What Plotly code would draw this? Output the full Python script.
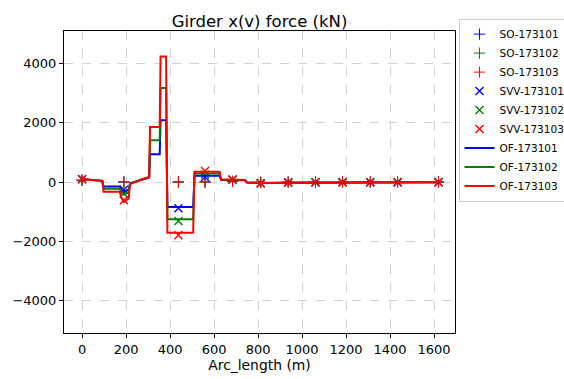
import plotly.graph_objects as go

# ---- data ----
names_so = ["SO-173101", "SO-173102", "SO-173103"]
names_svv = ["SVV-173101", "SVV-173102", "SVV-173103"]
names_of = ["OF-173101", "OF-173102", "OF-173103"]
colors = ["#0000ff", "#008000", "#ff0000"]

pts_x = [0, 190, 438, 559, 684, 812, 937, 1061, 1184, 1310, 1434, 1620]
so_1 = [60, 0, 0, 0, 20, -10, -5, -5, 0, 0, 0, 0]
so_2 = [60, 0, 0, 0, 20, -10, -5, -5, 0, 0, 0, 0]
so_3 = [60, 0, 0, 0, 20, -10, -5, -5, 0, 0, 0, 0]

svv_1 = [90, -260, -888, 170, 80, -40, -20, -10, -5, -5, -5, -5]
svv_2 = [90, -392, -1317, 250, 80, -40, -20, -10, -5, -5, -5, -5]
svv_3 = [90, -618, -1800, 370, 80, -40, -20, -10, -5, -5, -5, -5]

of_x = [0, 30, 60, 92, 98, 172, 178, 190, 205, 212, 218, 240, 270, 300, 305,
        309, 353, 357, 382, 388, 505, 511, 625, 632, 740, 750, 820, 1000,
        1200, 1400, 1620]
of_1 = [90, 85, 60, 40, -150, -150, -260, -330, -280, -250, -40, 0, 80, 130, 150,
        935, 935, 2085, 2085, -845, -845, 215, 215, 70, 60, -15, -30, -20,
        -10, -10, -10]
of_2 = [90, 85, 60, 40, -230, -230, -350, -420, -360, -330, -50, 0, 80, 140, 170,
        1410, 1410, 3175, 3175, -1260, -1260, 290, 290, 80, 65, -15, -30, -20,
        -10, -10, -10]
of_3 = [100, 90, 60, 40, -330, -330, -520, -680, -600, -560, -70, 0, 90, 150, 180,
        1860, 1860, 4240, 4240, -1713, -1713, 350, 350, 90, 70, -15, -30, -20,
        -10, -10, -10]

x_ticks = [0, 200, 400, 600, 800, 1000, 1200, 1400, 1600]
y_ticks = [-4000, -2000, 0, 2000, 4000]

FONT = "DejaVu Sans"

fig = go.Figure()
for name, ys, c in zip(names_so, [so_1, so_2, so_3], colors):
    fig.add_trace(go.Scatter(x=pts_x, y=ys, mode="markers", name=name,
                             marker=dict(symbol="cross-thin-open", size=8,
                                         line=dict(color=c, width=1), color=c)))
for name, ys, c in zip(names_svv, [svv_1, svv_2, svv_3], colors):
    fig.add_trace(go.Scatter(x=pts_x, y=ys, mode="markers", name=name,
                             marker=dict(symbol="x-thin-open", size=8,
                                         line=dict(color=c, width=1.4), color=c)))
for name, ys, c in zip(names_of, [of_1, of_2, of_3], colors):
    fig.add_trace(go.Scatter(x=of_x, y=ys, mode="lines", name=name,
                             line=dict(color=c, width=2)))

axis_common = dict(showline=True, linecolor="black", linewidth=1, mirror=True,
                   ticks="outside", ticklen=4, tickwidth=1, tickcolor="black",
                   showgrid=True, gridcolor="#d0d0d0", griddash="dash", gridwidth=1,
                   zeroline=False, tickfont=dict(family=FONT, size=13, color="black"))

fig.update_layout(
    width=564, height=379,
    margin=dict(l=63.5, r=108.5, t=30.5, b=46, autoexpand=False),
    paper_bgcolor="white", plot_bgcolor="white",
    font=dict(family=FONT, color="black"),
    title=dict(text="Girder x(v) force (kN)", x=0.5, xref="paper", xanchor="center",
               y=1, yref="paper", yanchor="bottom", pad=dict(b=4),
               font=dict(family=FONT, size=16.5, color="black")),
    xaxis=dict(range=[-82, 1695], tickvals=x_ticks,
               title=dict(text="Arc_length (m)", font=dict(family=FONT, size=13.9), standoff=2),
               **axis_common),
    yaxis=dict(range=[-5100, 5100], tickvals=y_ticks, **axis_common),
    legend=dict(x=1.009, y=1.041, xanchor="left", yanchor="top",
                bgcolor="white", bordercolor="#cccccc", borderwidth=1,
                font=dict(family=FONT, size=10.5, color="black"),
                tracegroupgap=0, itemwidth=30),
    showlegend=True,
)

fig.write_html("out.html")
